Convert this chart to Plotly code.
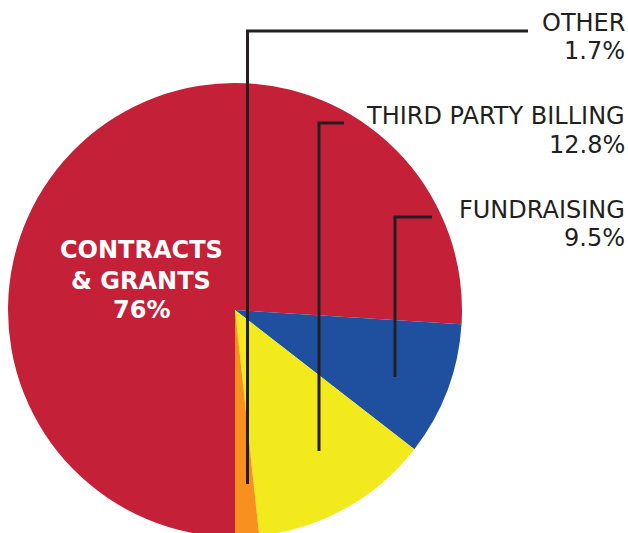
import plotly.graph_objects as go

categories = ["CONTRACTS & GRANTS", "FUNDRAISING", "THIRD PARTY BILLING", "OTHER"]
values = [76, 9.5, 12.8, 1.7]
value_labels = ["76%", "9.5%", "12.8%", "1.7%"]
colors = ["#C42038", "#1F50A0", "#F3EA1E", "#F7901E"]

# figure is slightly taller than the window so the pie bottom is cut as in the reference
W, H = 628, 537

def px(x):
    return x / W

def py(y):
    return 1 - y / H

# pie: centre (235, 310), radius 227 in window pixels
cx, cy, r = 235, 310, 227
fig = go.Figure(go.Pie(
    labels=categories,
    values=values,
    sort=False,
    direction="clockwise",
    rotation=180,
    marker=dict(colors=colors, line=dict(width=0)),
    textinfo="none",
    hoverinfo="label+percent",
    showlegend=False,
    domain=dict(x=[px(cx - r), px(cx + r)], y=[max(0, py(cy + r)), py(cy - r)]),
))

ink = "#231F20"
font_out = dict(family="DejaVu Sans", size=24, color=ink)

# Leader lines (vertical from slice up, then horizontal toward label)
leaders = [
    (395, 377, 217, 432),   # fundraising
    (319, 451, 123, 344),   # third party billing
    (247.5, 484, 31, 528),  # other
]
for xv, yb, yt, xe in leaders:
    fig.add_shape(type="line", xref="paper", yref="paper",
                  x0=px(xv), y0=py(yb), x1=px(xv), y1=py(yt),
                  line=dict(color=ink, width=3))
    fig.add_shape(type="line", xref="paper", yref="paper",
                  x0=px(xv - 1.5), y0=py(yt), x1=px(xe), y1=py(yt),
                  line=dict(color=ink, width=3))

CAP = 8  # distance from annotation top to cap top

# Outside labels: (index, cap top of name, cap top of value)
label_rows = [(1, 202, 230), (2, 108, 137), (3, 15, 43)]
for i, y_name, y_val in label_rows:
    for txt, yy in ((categories[i], y_name), (value_labels[i], y_val)):
        fig.add_annotation(
            x=px(627), y=py(yy - CAP), xref="paper", yref="paper",
            xanchor="right", yanchor="top", align="right",
            text=txt, showarrow=False, font=font_out,
        )

# Inside label for the main slice
inner_lines = ["CONTRACTS", "& GRANTS", value_labels[0]]
for txt, yy in zip(inner_lines, (242, 273, 302)):
    fig.add_annotation(
        x=px(141), y=py(yy - CAP), xref="paper", yref="paper",
        xanchor="center", yanchor="top", align="center",
        text=f"<b>{txt}</b>", showarrow=False,
        font=dict(family="DejaVu Sans", size=24, color="white"),
    )

fig.update_layout(
    width=W, height=H,
    margin=dict(l=0, r=0, t=0, b=0),
    paper_bgcolor="white", plot_bgcolor="white",
)

fig.write_html(
    "out.html",
    config={"displayModeBar": False},
    post_script="document.body.style.margin='0';document.body.style.overflow='hidden';"
                "document.documentElement.style.overflow='hidden';",
)
